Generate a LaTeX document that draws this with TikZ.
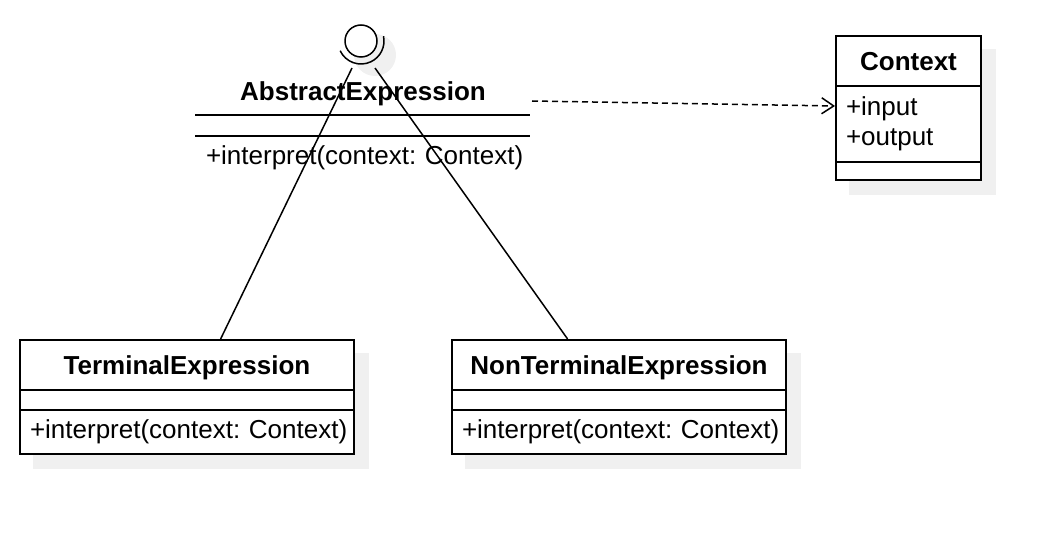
\documentclass[tikz,border=0pt]{standalone}
\usepackage{fontspec}
\setmainfont{Liberation Sans}
\frenchspacing
\usetikzlibrary{arrows.meta,backgrounds,calc}
\tikzset{
	box/.style={draw, line width=1pt, fill=white, inner sep=0pt},
	title/.style={box, font=\fontsize{13}{15}\bfseries, minimum height=25pt, text height=12pt, text depth=2.7pt},
	ops/.style={box, align=left, inner xsep=5pt, text width=#1},
	dep/.style={dash pattern=on 3pt off 2pt, line width=0.75pt, -{Straight Barb[length=6pt,width=8pt]}},
	shade/.style={fill=black!6},
}
\begin{document}
\begin{tikzpicture}[x=0.5pt, y=-0.5pt, font=\fontsize{13}{15}\selectfont, line width=0.75pt]
		\useasboundingbox (0,0) rectangle (1060,534);
		\node[circle, draw, fill=white, minimum size=16pt, inner sep=0pt] (I) at (361,41) {};
		\draw ([shift={(205:11.5pt)}]I.center) arc[start angle=205, end angle=372, radius=11.5pt];
		\coordinate (Il) at (352,68);
		\coordinate (Ir) at (375,68);
		\node[font=\fontsize{13}{15}\bfseries, text height=12pt, text depth=2.7pt] (A) at (363,91) {AbstractExpression};
		\node[inner sep=0pt, minimum width=166.5pt, minimum height=9.5pt] (Aa) at (362.5,125.5) {};
		\node[inner sep=0pt, inner xsep=5pt, align=left, text width=156.5pt] (Am) at (362.5,158) {\mbox{+interpret(context: Context)}};
		\draw[line width=1pt] (Aa.north west) -- (Aa.north east);
		\draw[line width=1pt] (Aa.south west) -- (Aa.south east);
		\coordinate (Ae) at (532,101);
		\node[title, minimum width=72.5pt] (C) at (908.5,61) {Context};
		\node[ops=62.5pt, minimum height=38pt] (Ca) at (908.5,124) {+input\\+output};
		\node[box, minimum width=72.5pt, minimum height=9pt] (Cm) at (908.5,171) {};
		\node[title, minimum width=167pt] (T) at (187,365) {TerminalExpression};
		\node[box, minimum width=167pt, minimum height=10pt] (Ta) at (187,400) {};
		\node[ops=157pt, minimum height=22pt] (Tm) at (187,432) {\mbox{+interpret(context: Context)}};
		\node[title, minimum width=167pt] (N) at (619,365) {NonTerminalExpression};
		\node[box, minimum width=167pt, minimum height=10pt] (Na) at (619,400) {};
		\node[ops=157pt, minimum height=22pt] (Nm) at (619,432) {\mbox{+interpret(context: Context)}};
		\draw (Il) -- ($(T.north west)!0.6!(T.north east)$);
		\draw (Ir) -- ($(N.north west)!0.347!(N.north east)$);
		\draw[dep] (Ae) -- ([yshift=9pt]Ca.west);
		\begin{scope}[on background layer]
			\fill[shade] (375,55) circle[radius=10.5pt];
			\fill[shade] ([shift={(14,14)}]C.north west) rectangle ([shift={(14,14)}]Cm.south east);
			\fill[shade] ([shift={(14,14)}]T.north west) rectangle ([shift={(14,14)}]Tm.south east);
			\fill[shade] ([shift={(14,14)}]N.north west) rectangle ([shift={(14,14)}]Nm.south east);
		\end{scope}
	\end{tikzpicture}
\end{document}
